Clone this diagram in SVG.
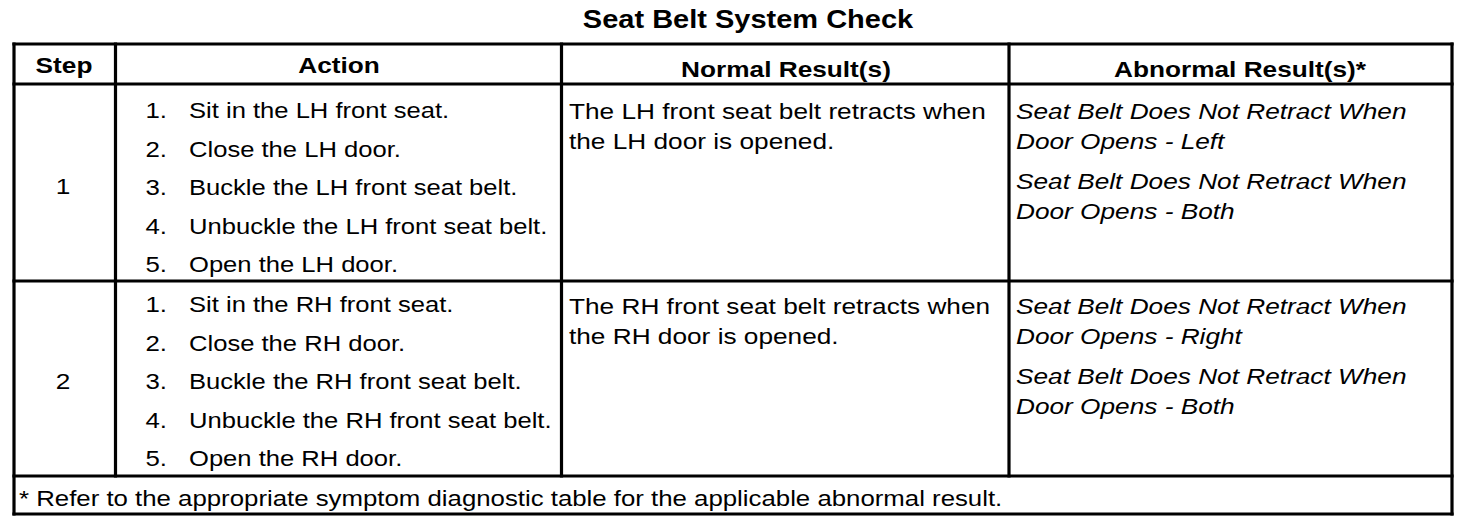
<svg xmlns="http://www.w3.org/2000/svg" width="1472" height="530" viewBox="0 0 1472 530">
<style>
.t{font-family:"Liberation Sans",Arial,Helvetica,sans-serif;font-size:21.5px;fill:#000}
.b{font-weight:bold}
.i{font-style:italic}
.m{text-anchor:middle}
.e{text-anchor:end}
.ttl{font-size:25px}
#grid line{stroke:#000;stroke-width:3.2;stroke-linecap:square}
</style>
<rect width="1472" height="530" fill="#fff"/>
<g id="title">
<text class="t b m ttl" transform="translate(748 28) scale(1.16 1)">Seat Belt System Check</text>
</g>
<g id="grid">
<line x1="14" y1="44" x2="1452" y2="44"/>
<line x1="14" y1="84" x2="1452" y2="84"/>
<line x1="14" y1="281" x2="1452" y2="281"/>
<line x1="14" y1="476" x2="1452" y2="476"/>
<line x1="14" y1="514" x2="1452" y2="514"/>
<line x1="14" y1="44" x2="14" y2="514"/>
<line x1="1452" y1="44" x2="1452" y2="514"/>
<line x1="115.5" y1="44" x2="115.5" y2="476"/>
<line x1="561.5" y1="44" x2="561.5" y2="476"/>
<line x1="1009" y1="44" x2="1009" y2="476"/>
</g>
<g id="header">
<text class="t b m" transform="translate(64 73) scale(1.22 1)">Step</text>
<text class="t b m" transform="translate(339 73) scale(1.22 1)">Action</text>
<text class="t b m" transform="translate(786 77) scale(1.22 1)">Normal Result(s)</text>
<text class="t b m" transform="translate(1240 77) scale(1.22 1)">Abnormal Result(s)*</text>
</g>
<g id="step1">
<text class="t m" transform="translate(63 194) scale(1.22 1)">1</text>
<text class="t e" transform="translate(167 118) scale(1.2 1)">1.</text>
<text class="t" transform="translate(189 118) scale(1.19 1)">Sit in the LH front seat.</text>
<text class="t e" transform="translate(167 156.5) scale(1.2 1)">2.</text>
<text class="t" transform="translate(189 156.5) scale(1.19 1)">Close the LH door.</text>
<text class="t e" transform="translate(167 195) scale(1.2 1)">3.</text>
<text class="t" transform="translate(189 195) scale(1.19 1)">Buckle the LH front seat belt.</text>
<text class="t e" transform="translate(167 233.5) scale(1.2 1)">4.</text>
<text class="t" transform="translate(189 233.5) scale(1.19 1)">Unbuckle the LH front seat belt.</text>
<text class="t e" transform="translate(167 272) scale(1.2 1)">5.</text>
<text class="t" transform="translate(189 272) scale(1.19 1)">Open the LH door.</text>
<text class="t" transform="translate(569 119) scale(1.22 1)">The LH front seat belt retracts when</text>
<text class="t" transform="translate(569 149) scale(1.22 1)">the LH door is opened.</text>
<text class="t i" transform="translate(1016 119) scale(1.22 1)">Seat Belt Does Not Retract When</text>
<text class="t i" transform="translate(1016 149) scale(1.22 1)">Door Opens - Left</text>
<text class="t i" transform="translate(1016 189) scale(1.22 1)">Seat Belt Does Not Retract When</text>
<text class="t i" transform="translate(1016 219) scale(1.22 1)">Door Opens - Both</text>
</g>
<g id="step2">
<text class="t m" transform="translate(63 389) scale(1.22 1)">2</text>
<text class="t e" transform="translate(167 312) scale(1.2 1)">1.</text>
<text class="t" transform="translate(189 312) scale(1.19 1)">Sit in the RH front seat.</text>
<text class="t e" transform="translate(167 350.5) scale(1.2 1)">2.</text>
<text class="t" transform="translate(189 350.5) scale(1.19 1)">Close the RH door.</text>
<text class="t e" transform="translate(167 389) scale(1.2 1)">3.</text>
<text class="t" transform="translate(189 389) scale(1.19 1)">Buckle the RH front seat belt.</text>
<text class="t e" transform="translate(167 427.5) scale(1.2 1)">4.</text>
<text class="t" transform="translate(189 427.5) scale(1.19 1)">Unbuckle the RH front seat belt.</text>
<text class="t e" transform="translate(167 466) scale(1.2 1)">5.</text>
<text class="t" transform="translate(189 466) scale(1.19 1)">Open the RH door.</text>
<text class="t" transform="translate(569 314) scale(1.22 1)">The RH front seat belt retracts when</text>
<text class="t" transform="translate(569 344) scale(1.22 1)">the RH door is opened.</text>
<text class="t i" transform="translate(1016 314) scale(1.22 1)">Seat Belt Does Not Retract When</text>
<text class="t i" transform="translate(1016 344) scale(1.22 1)">Door Opens - Right</text>
<text class="t i" transform="translate(1016 384) scale(1.22 1)">Seat Belt Does Not Retract When</text>
<text class="t i" transform="translate(1016 414) scale(1.22 1)">Door Opens - Both</text>
</g>
<g id="footnote">
<text class="t" transform="translate(19 506) scale(1.2 1)">* Refer to the appropriate symptom diagnostic table for the applicable abnormal result.</text>
</g>
</svg>
